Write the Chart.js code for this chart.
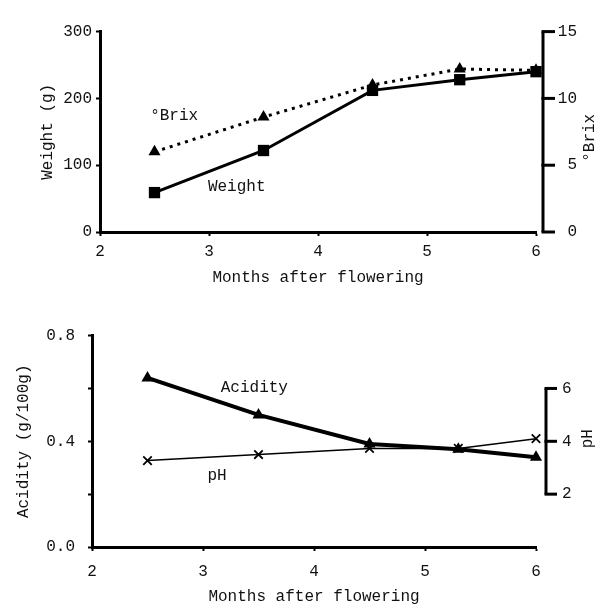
<!DOCTYPE html>
<html><head><meta charset="utf-8">
<script src="https://cdn.jsdelivr.net/npm/chart.js@4"></script>
<style>
html,body{margin:0;padding:0;background:#fff;width:598px;height:606px;overflow:hidden}
canvas{display:block;position:absolute;left:0}
#c1{top:0}#c2{top:300px}
</style></head>
<body>
<canvas id="c1" width="598" height="300"></canvas>
<canvas id="c2" width="598" height="306"></canvas>
<script>
// ---- data ----
const months = [2.5, 3.5, 4.5, 5.3, 6];
const weight = [59, 122, 212, 228, 240];
const brix = [6.0, 8.6, 11.0, 12.2, 12.1];
const acidity = [0.64, 0.50, 0.39, 0.37, 0.34];
const ph = [3.27, 3.5, 3.73, 3.73, 4.1];

const monthTicks = [2, 3, 4, 5, 6];
const monthTickLabels = ['2', '3', '4', '5', '6'];
const weightTicks = [0, 100, 200, 300];
const weightTickLabels = ['0', '100', '200', '300'];
const brixTicks = [0, 5, 10, 15];
const brixTickLabels = ['0', '5', '10', '15'];
const acidityTicks = [0, 0.2, 0.4, 0.6, 0.8];
const acidityTickLabels = ['0.0', '', '0.4', '', '0.8'];
const phTicks = [2, 4, 6];
const phTickLabels = ['2', '4', '6'];

Chart.defaults.font.family = "'Liberation Mono', 'DejaVu Sans Mono', monospace";
Chart.defaults.font.size = 16;
Chart.defaults.color = '#111';

const pts = (xs, ys) => xs.map((x, i) => ({x: x, y: ys[i]}));
const setTicks = (vals) => (s) => { s.ticks = vals.map(v => ({value: v})); };
const labelsFrom = (arr) => (v, i) => arr[i];

// right-hand bracket axis drawn through the scale
const bracketPlugin = {
  id: 'bracket',
  afterDraw(chart, args, o) {
    const s = chart.scales[o.scaleId];
    const ctx = chart.ctx;
    const x = chart.chartArea.right + o.dx;
    ctx.save();
    ctx.strokeStyle = '#000';
    ctx.lineWidth = 3;
    ctx.beginPath();
    ctx.moveTo(x, s.getPixelForValue(o.from));
    ctx.lineTo(x, s.getPixelForValue(o.to));
    ctx.stroke();
    o.ticks.forEach(v => {
      const y = s.getPixelForValue(v);
      ctx.beginPath();
      ctx.moveTo(x - 1.5, y);
      ctx.lineTo(x + o.tickLen, y);
      ctx.stroke();
    });
    ctx.restore();
  }
};

// in-plot series labels positioned in data coordinates
const labelPlugin = {
  id: 'inlabels',
  afterDatasetsDraw(chart, args, o) {
    const ctx = chart.ctx;
    ctx.save();
    ctx.fillStyle = '#111';
    ctx.font = "16px 'Liberation Mono', monospace";
    ctx.textAlign = 'left';
    ctx.textBaseline = 'middle';
    o.items.forEach(it => {
      const x = chart.scales.x.getPixelForValue(it.x);
      const y = chart.scales[it.scale].getPixelForValue(it.y);
      ctx.fillText(it.text, x, y);
    });
    ctx.restore();
  }
};

// right axis title reading bottom-to-top
const rightTitlePlugin = {
  id: 'rtitle',
  afterDraw(chart, args, o) {
    const ctx = chart.ctx;
    const s = chart.scales[o.scaleId];
    ctx.save();
    ctx.fillStyle = '#111';
    ctx.font = "16px 'Liberation Mono', monospace";
    ctx.textAlign = 'center';
    ctx.textBaseline = 'middle';
    ctx.translate(chart.width - o.fromRight, s.getPixelForValue(o.at));
    ctx.rotate(-Math.PI / 2);
    ctx.fillText(o.text, 0, 0);
    ctx.restore();
  }
};

const axisGrid = {display: true, drawOnChartArea: false, tickLength: 4, tickWidth: 2, color: '#000'};
const axisBorder = {display: true, width: 3, color: '#000'};

// ---- top chart ----
new Chart(document.getElementById('c1'), {
  type: 'line',
  data: {datasets: [
    {label: 'Weight', data: pts(months, weight), yAxisID: 'y', borderColor: '#000', borderWidth: 3, clip: false,
     pointStyle: 'rect', pointRadius: 8, pointBackgroundColor: '#000', pointBorderColor: '#000', pointBorderWidth: 0, tension: 0, order: 1},
    {label: '°Brix', data: pts(months, brix), yAxisID: 'y1', borderColor: '#000', borderWidth: 3, borderDash: [3, 5], clip: false,
     pointStyle: 'triangle', pointRadius: 7, pointBackgroundColor: '#000', pointBorderColor: '#000', pointBorderWidth: 0, tension: 0, order: 2}
  ]},
  options: {
    responsive: false, animation: false, events: [],
    layout: {padding: {top: 23, left: 0, right: 21, bottom: 0}},
    plugins: {
      legend: {display: false}, tooltip: {enabled: false},
      bracket: {scaleId: 'y1', from: 0, to: 15, ticks: brixTicks, dx: 7, tickLen: 12},
      inlabels: {items: [
        {text: '°Brix', x: 2.46, y: 174, scale: 'y'},
        {text: 'Weight', x: 2.99, y: 67, scale: 'y'}
      ]},
      rtitle: {scaleId: 'y', text: '°Brix', fromRight: 8, at: 141}
    },
    scales: {
      x: {type: 'linear', min: 2, max: 6, afterBuildTicks: setTicks(monthTicks),
          ticks: {padding: 6, maxRotation: 0, autoSkip: false, callback: labelsFrom(monthTickLabels)},
          grid: axisGrid, border: axisBorder,
          title: {display: true, text: 'Months after flowering', padding: {top: 0, bottom: 13}},
          afterFit: s => { s.height = 68; }},
      y: {min: 0, max: 300, afterBuildTicks: setTicks(weightTicks),
          ticks: {padding: 4, autoSkip: false, callback: labelsFrom(weightTickLabels)},
          grid: axisGrid, border: axisBorder,
          title: {display: true, text: 'Weight (g)', padding: {top: 38, bottom: 0}},
          afterFit: s => { s.width = 100; }},
      y1: {position: 'right', min: 0, max: 15, afterBuildTicks: setTicks(brixTicks),
           ticks: {padding: 22, crossAlign: 'far', autoSkip: false, callback: labelsFrom(brixTickLabels)},
           grid: {display: false, drawTicks: false, drawOnChartArea: false}, border: {display: false},
           afterFit: s => { s.width = 41; }}
    }
  },
  plugins: [bracketPlugin, labelPlugin, rightTitlePlugin]
});

// ---- bottom chart ----
new Chart(document.getElementById('c2'), {
  type: 'line',
  data: {datasets: [
    {label: 'Acidity', data: pts(months, acidity), yAxisID: 'y', borderColor: '#000', borderWidth: 4, clip: false,
     pointStyle: 'triangle', pointRadius: 7, pointBackgroundColor: '#000', pointBorderColor: '#000', pointBorderWidth: 0, tension: 0, order: 1},
    {label: 'pH', data: pts(months, ph), yAxisID: 'y1', borderColor: '#000', borderWidth: 1.5, clip: false,
     pointStyle: 'crossRot', pointRadius: 6, pointBackgroundColor: '#000', pointBorderColor: '#000', pointBorderWidth: 1.8, tension: 0, order: 2}
  ]},
  options: {
    responsive: false, animation: false, events: [],
    layout: {padding: {top: 32, left: 0, right: 0, bottom: 0}},
    plugins: {
      legend: {display: false}, tooltip: {enabled: false},
      bracket: {scaleId: 'y1', from: 2, to: 6, ticks: phTicks, dx: 10, tickLen: 11},
      inlabels: {items: [
        {text: 'Acidity', x: 3.16, y: 0.604, scale: 'y'},
        {text: 'pH', x: 3.04, y: 0.269, scale: 'y'}
      ]},
      rtitle: {scaleId: 'y1', text: 'pH', fromRight: 10, at: 4.1}
    },
    scales: {
      x: {type: 'linear', min: 2, max: 6, afterBuildTicks: setTicks(monthTicks),
          ticks: {padding: 11, maxRotation: 0, autoSkip: false, callback: labelsFrom(monthTickLabels)},
          grid: axisGrid, border: axisBorder,
          title: {display: true, text: 'Months after flowering', padding: {top: 0, bottom: 0}},
          afterFit: s => { s.height = 59; }},
      y: {min: 0, max: 0.8, afterBuildTicks: setTicks(acidityTicks),
          ticks: {padding: 13, autoSkip: false, callback: labelsFrom(acidityTickLabels)},
          grid: axisGrid, border: axisBorder,
          title: {display: true, text: 'Acidity (g/100g)', padding: {top: 14, bottom: 0}},
          afterFit: s => { s.width = 92; }},
      y1: {position: 'right', min: 0, max: 8, afterBuildTicks: setTicks(phTicks),
           ticks: {padding: 26, autoSkip: false, callback: labelsFrom(phTickLabels)},
           grid: {display: false, drawTicks: false, drawOnChartArea: false}, border: {display: false},
           afterFit: s => { s.width = 62; }}
    }
  },
  plugins: [bracketPlugin, labelPlugin, rightTitlePlugin]
});
</script>
</body></html>
